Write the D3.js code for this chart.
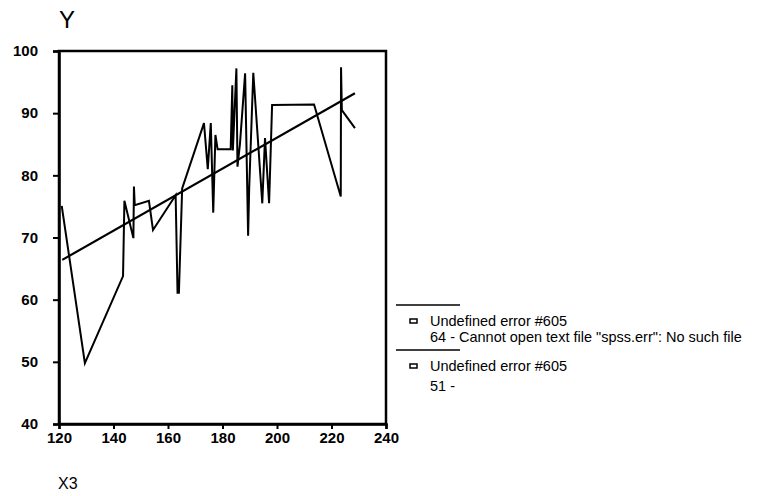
<!DOCTYPE html>
<html>
<head>
<meta charset="utf-8">
<script src="https://cdn.jsdelivr.net/npm/d3@7"></script>
<style>
  html, body { margin: 0; padding: 0; background: #fff; }
  svg { display: block; }
  text { font-family: Arial, "Liberation Sans", sans-serif; fill: #000; }
</style>
</head>
<body>
<script>
// ---- data ----
const xValues = [121, 129.5, 143.5, 144, 147.3, 147.5, 147.8, 153, 154.5, 162.8, 163.5, 164.0, 165.2, 173.2, 174.6, 175.7, 176.6, 177.4, 178.2, 183.0, 183.6, 183.8, 185.1, 185.5, 186.4, 188.3, 189.4, 189.8, 191.3, 194.6, 195.6, 197.1, 198.2, 213.6, 223.4, 223.5, 223.8, 228.6];
const yValues = [75.1, 49.8, 63.8, 75.9, 69.9, 78.2, 75.2, 75.9, 71.2, 76.8, 61.1, 61.1, 77.9, 88.4, 81.0, 88.4, 74.0, 86.5, 84.2, 84.2, 94.5, 84.0, 97.2, 81.4, 85.0, 96.4, 70.3, 78.0, 96.5, 75.5, 86.0, 75.5, 91.3, 91.4, 76.6, 97.4, 90.5, 87.6];
const fitX = [121.2, 228.6];
const fitY = [66.4, 93.2];
const xTicks = [120, 140, 160, 180, 200, 220, 240];
const yTicks = [40, 50, 60, 70, 80, 90, 100];
const legendLines = [
  ["Undefined error #605", "64 - Cannot open text file \"spss.err\": No such file"],
  ["Undefined error #605", "51 -"]
];

const W = 779, H = 496;
const svg = d3.select("body").append("svg").attr("width", W).attr("height", H);

const x = d3.scaleLinear().domain([120, 240]).range([59, 386]);
const y = d3.scaleLinear().domain([40, 100]).range([424, 51]);

// frame
svg.append("rect")
  .attr("x", x(120)).attr("y", y(100))
  .attr("width", x(240) - x(120)).attr("height", y(40) - y(100))
  .attr("fill", "none").attr("stroke", "#000").attr("stroke-width", 2.5);

// axes
const xAxis = d3.axisBottom(x).tickValues(xTicks).tickSize(5).tickPadding(3).tickFormat(d3.format("d"));
const yAxis = d3.axisLeft(y).tickValues(yTicks).tickSize(6).tickPadding(15).tickFormat(d3.format("d"));

const gx = svg.append("g").attr("transform", `translate(0,${y(40)})`).call(xAxis);
const gy = svg.append("g").attr("transform", `translate(${x(120)},0)`).call(yAxis);
[gx, gy].forEach(g => {
  g.select(".domain").attr("stroke", "#000").attr("stroke-width", 2.5);
  g.selectAll(".tick line").attr("stroke", "#000").attr("stroke-width", 2);
  g.selectAll(".tick text")
    .attr("fill", "#000")
    .style("font-family", "Arial, 'Liberation Sans', sans-serif")
    .style("font-size", "15px")
    .style("font-weight", "bold");
});

// data line
const pts = xValues.map((v, i) => [v, yValues[i]]);
const line = d3.line().x(d => x(d[0])).y(d => y(d[1]));
svg.append("path").datum(pts)
  .attr("d", line)
  .attr("fill", "none").attr("stroke", "#000").attr("stroke-width", 2)
  .attr("stroke-linejoin", "miter");

// regression line
svg.append("path").datum(fitX.map((v, i) => [v, fitY[i]]))
  .attr("d", line)
  .attr("fill", "none").attr("stroke", "#000").attr("stroke-width", 2.2);

// axis titles
svg.append("text").attr("x", 59).attr("y", 28).style("font-size", "24px").text("Y");
svg.append("text").attr("x", 58).attr("y", 489).style("font-size", "16px").text("X3");

// legend
const lg = svg.append("g");
const blockTop = [305, 350];
const gap = [16, 20];
legendLines.forEach((item, i) => {
  const top = blockTop[i];
  lg.append("line").attr("x1", 396).attr("x2", 460).attr("y1", top).attr("y2", top)
    .attr("stroke", "#000").attr("stroke-width", 1.5);
  lg.append("rect").attr("x", 410).attr("y", top + 14).attr("width", 7).attr("height", 4)
    .attr("fill", "#fff").attr("stroke", "#000").attr("stroke-width", 1.5);
  lg.append("text").attr("x", 430).attr("y", top + 21).style("font-size", "14.5px").text(item[0]);
  lg.append("text").attr("x", 430).attr("y", top + 21 + gap[i]).style("font-size", "14.5px").text(item[1]);
});
</script>
</body>
</html>
